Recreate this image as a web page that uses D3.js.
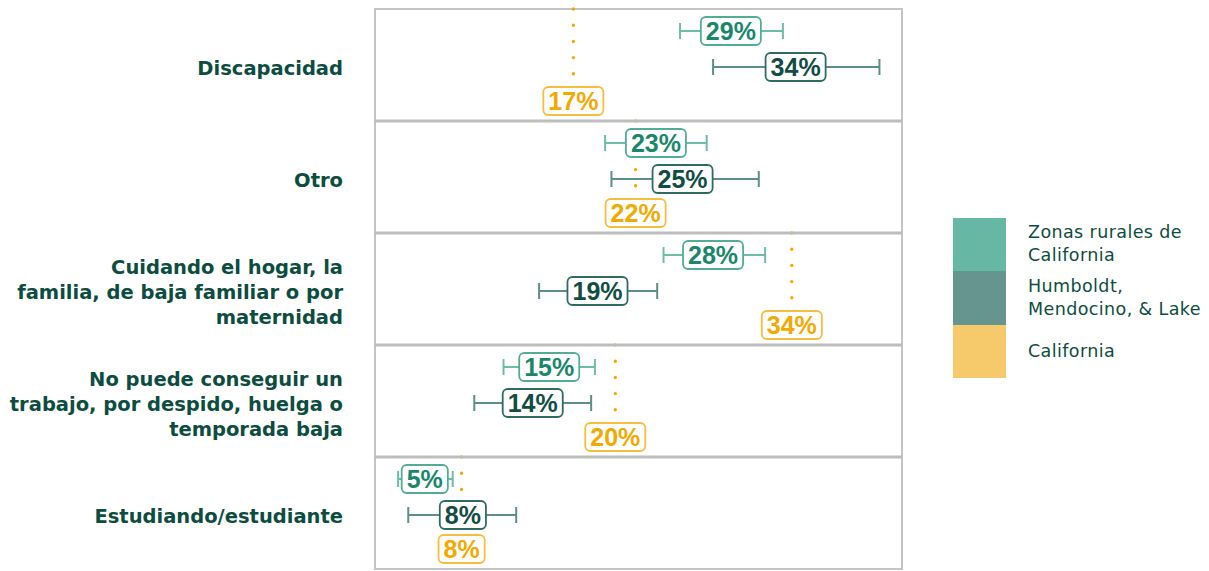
<!DOCTYPE html>
<html>
<head>
<meta charset="utf-8">
<script src="https://cdn.jsdelivr.net/npm/d3@7"></script>
<style>
  body { margin: 0; background: #fff; }
  svg { display: block; }
</style>
</head>
<body>
<div id="chart"></div>
<script>
/* Categories (top to bottom) */
var categories = [
  ["Discapacidad"],
  ["Otro"],
  ["Cuidando el hogar, la", "familia, de baja familiar o por", "maternidad"],
  ["No puede conseguir un", "trabajo, por despido, huelga o", "temporada baja"],
  ["Estudiando/estudiante"]
];

/* Zonas rurales de California: estimate, low, high, label */
var ruralValue = [29.2, 23.3, 27.8, 14.9, 5.1];
var ruralLow   = [25.2, 19.3, 23.9, 11.3, 3.0];
var ruralHigh  = [33.3, 27.3, 31.9, 18.5, 7.3];
var ruralLabel = ["29%", "23%", "28%", "15%", "5%"];

/* Humboldt, Mendocino, & Lake */
var humValue = [34.3, 25.4, 18.7, 13.6, 8.1];
var humLow   = [27.8, 19.8, 14.1, 9.0, 3.8];
var humHigh  = [40.9, 31.4, 23.4, 18.2, 12.3];
var humLabel = ["34%", "25%", "19%", "14%", "8%"];

/* California */
var calValue = [16.8, 21.7, 34.0, 20.1, 8.0];
var calLabel = ["17%", "22%", "34%", "20%", "8%"];

var legendNames = [["Zonas rurales de", "California"], ["Humboldt,", "Mendocino, & Lake"], ["California"]];

var width = 1209, height = 571;
var svg = d3.select("#chart").append("svg").attr("width", width).attr("height", height);

var panelLeft = 375, panelRight = 902;
var panelTop = 9, panelH = 112;

var x = d3.scaleLinear().domain([0, 40]).range([360, 868]);
var yPanel = d3.scaleBand().domain(d3.range(categories.length)).range([panelTop, panelTop + panelH * categories.length]);

var ruralCol = {line: "#6dbda8", box: "#52ad94", text: "#1b876a"};
var humCol = {line: "#5c8f87", box: "#2f6b61", text: "#114d43"};
var calCol = {dot: "#f2a900", box: "#f7bd3c", text: "#f2a900"};
var labelFont = "'Liberation Sans', Arial, sans-serif";

/* panel frames */
var panels = svg.append("g").selectAll("g")
  .data(categories)
  .enter().append("g")
  .attr("transform", function(d, i) { return "translate(0," + yPanel(i) + ")"; });

panels.append("rect")
  .attr("x", panelLeft).attr("y", 0)
  .attr("width", panelRight - panelLeft).attr("height", panelH)
  .attr("fill", "none").attr("stroke", "#c4c4c4").attr("stroke-width", 2);

/* separators a bit heavier */
svg.selectAll(".sep")
  .data(d3.range(1, categories.length))
  .enter().append("line")
  .attr("x1", panelLeft).attr("x2", panelRight)
  .attr("y1", function(i) { return yPanel(i); })
  .attr("y2", function(i) { return yPanel(i); })
  .attr("stroke", "#bdbdbd").attr("stroke-width", 3);

/* California dotted reference line */
panels.append("line")
  .attr("x1", function(d, i) { return x(calValue[i]); })
  .attr("x2", function(d, i) { return x(calValue[i]); })
  .attr("y1", 0).attr("y2", panelH)
  .attr("stroke", calCol.dot).attr("stroke-width", 3.4)
  .attr("stroke-linecap", "round")
  .attr("stroke-dasharray", "0,16.2");

var rowY = [22, 58, 92];

/* confidence interval whiskers */
function whisker(low, high, row, col) {
  var g = panels.append("g").attr("stroke", col.line).attr("stroke-width", 2);
  g.append("line")
    .attr("x1", function(d, i) { return x(low[i]); })
    .attr("x2", function(d, i) { return x(high[i]); })
    .attr("y1", rowY[row]).attr("y2", rowY[row]);
  g.append("line")
    .attr("x1", function(d, i) { return x(low[i]); })
    .attr("x2", function(d, i) { return x(low[i]); })
    .attr("y1", rowY[row] - 8).attr("y2", rowY[row] + 8);
  g.append("line")
    .attr("x1", function(d, i) { return x(high[i]); })
    .attr("x2", function(d, i) { return x(high[i]); })
    .attr("y1", rowY[row] - 8).attr("y2", rowY[row] + 8);
}
whisker(ruralLow, ruralHigh, 0, ruralCol);
whisker(humLow, humHigh, 1, humCol);

/* value labels in rounded boxes */
function valueBox(values, labels, row, col) {
  var g = panels.append("g")
    .attr("transform", function(d, i) { return "translate(" + x(values[i]) + "," + rowY[row] + ")"; });
  g.append("text")
    .attr("text-anchor", "middle")
    .attr("dy", "0.36em")
    .style("font-family", labelFont)
    .style("font-weight", "bold")
    .style("font-size", "25px")
    .attr("fill", col.text)
    .text(function(d, i) { return labels[i]; });
  g.insert("rect", "text")
    .each(function() {
      var w = this.parentNode.querySelector("text").getComputedTextLength() + 10;
      d3.select(this).attr("x", -w / 2).attr("width", w);
    })
    .attr("y", -14).attr("height", 28)
    .attr("rx", 5).attr("ry", 5)
    .attr("fill", "#fff").attr("stroke", col.box).attr("stroke-width", 1.8);
}
valueBox(ruralValue, ruralLabel, 0, ruralCol);
valueBox(humValue, humLabel, 1, humCol);
valueBox(calValue, calLabel, 2, calCol);

/* category labels */
var lineH = 25;
panels.append("text")
  .attr("text-anchor", "end")
  .style("font-family", "'DejaVu Sans', sans-serif")
  .style("font-weight", "bold")
  .style("font-size", "19.5px")
  .attr("fill", "#0c4d40")
  .each(function(d) {
    var t = d3.select(this);
    var y0 = panelH / 2 - (d.length - 1) * lineH / 2 + 9.5;
    d.forEach(function(line, k) {
      t.append("tspan").attr("x", 343).attr("y", y0 + k * lineH).text(line);
    });
  });

/* legend */
var legendColor = d3.scaleOrdinal().domain([0, 1, 2]).range(["#66b8a5", "#66948e", "#f6ca6a"]);
var legY = [218, 271, 325], legH = [53, 54, 53];
var leg = svg.append("g").selectAll("g")
  .data(legendNames)
  .enter().append("g");
leg.append("rect")
  .attr("x", 953).attr("width", 53)
  .attr("y", function(d, i) { return legY[i]; })
  .attr("height", function(d, i) { return legH[i]; })
  .attr("fill", function(d, i) { return legendColor(i); });
leg.append("text")
  .style("font-family", "'DejaVu Sans', sans-serif")
  .style("font-size", "17.5px")
  .style("letter-spacing", "0.4px")
  .attr("fill", "#0c4d40")
  .each(function(d, i) {
    var t = d3.select(this);
    var base = i === 2 ? 357 : [238, 292][i];
    d.forEach(function(line, k) {
      t.append("tspan").attr("x", 1028).attr("y", base + k * 23).text(line);
    });
  });
</script>
</body>
</html>
